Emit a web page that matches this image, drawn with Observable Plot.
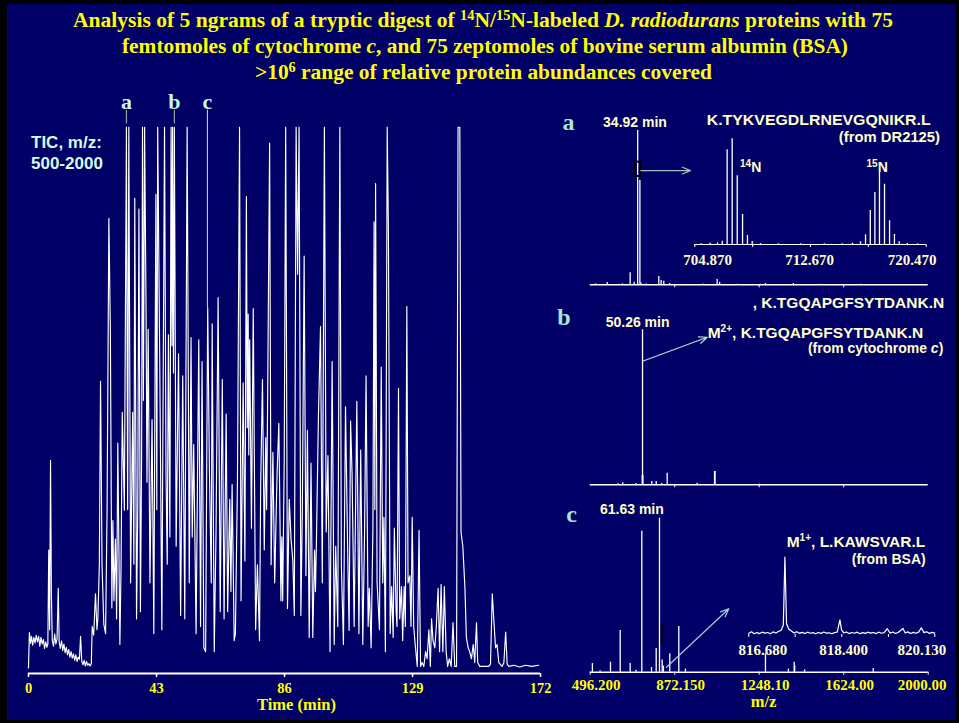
<!DOCTYPE html>
<html>
<head>
<meta charset="utf-8">
<script src="https://cdn.jsdelivr.net/npm/d3@7"></script>
<script src="https://cdn.jsdelivr.net/npm/@observablehq/plot@0.6"></script>
<style>
  html, body { margin: 0; padding: 0; background: #000; }
  #frame { position: relative; width: 959px; height: 723px; background: #000; overflow: hidden; }
  #bg { position: absolute; left: 7px; top: 4px; width: 949px; height: 716px; background: #000066; }
  .slot { position: absolute; }
  .slot svg { display: block; max-width: none !important; }
  #overlay { position: absolute; left: 0; top: 0; pointer-events: none; }
</style>
</head>
<body>
<div id="frame">
  <div id="bg"></div>
  <div id="tic" class="slot" style="left:0px;top:90px"></div>
  <div id="specA" class="slot" style="left:555px;top:100px"></div>
  <div id="specB" class="slot" style="left:555px;top:295px"></div>
  <div id="specC" class="slot" style="left:555px;top:495px"></div>
  <div id="insetA" class="slot" style="left:680px;top:130px"></div>
  <div id="insetC" class="slot" style="left:740px;top:540px"></div>
  <svg id="overlay" width="959" height="723" font-weight="bold">
    <g font-family="'Liberation Serif','Times New Roman',serif" fill="#ffff00" font-size="21">
      <text x="73" y="27" textLength="820" lengthAdjust="spacingAndGlyphs">Analysis of 5 ngrams of a tryptic digest of  <tspan font-size="14" dy="-7">14</tspan><tspan dy="7">N/</tspan><tspan font-size="14" dy="-7">15</tspan><tspan dy="7">N-labeled </tspan><tspan font-style="italic">D. radiodurans</tspan><tspan>  proteins with 75</tspan></text>
      <text x="122" y="53" textLength="726" lengthAdjust="spacingAndGlyphs">femtomoles of cytochrome <tspan font-style="italic">c</tspan><tspan>, and 75 zeptomoles of bovine serum albumin (BSA)</tspan></text>
      <text x="255" y="79" textLength="457" lengthAdjust="spacingAndGlyphs">&gt;10<tspan font-size="14" dy="-7">6</tspan><tspan dy="7"> range of relative protein abundances covered</tspan></text>
    </g>
    <g font-family="'Liberation Sans',Arial,sans-serif" fill="#d4fbe9" font-size="17">
      <text x="31" y="147.5">TIC, m/z:</text>
      <text x="31" y="168.5">500-2000</text>
    </g>
    <g font-family="'Liberation Serif','Times New Roman',serif" font-size="24" fill="#a8e6d6" text-anchor="middle">
      <text x="568.5" y="130">a</text>
      <text x="564" y="325">b</text>
      <text x="571.7" y="521.7">c</text>
    </g>
    <g font-family="'Liberation Sans',Arial,sans-serif" fill="#ffffcc" font-size="15">
      <text x="635" y="126.5" text-anchor="middle" font-size="14">34.92 min</text>
      <text x="706.7" y="125" textLength="224" lengthAdjust="spacingAndGlyphs">K.TYKVEGDLRNEVGQNIKR.L</text>
      <text x="940" y="142" text-anchor="end" font-size="14.8">(from DR2125)</text>
      <text x="740" y="171.5"><tspan font-size="10" dy="-5">14</tspan><tspan font-size="14" dy="5">N</tspan></text>
      <text x="866.5" y="171.5"><tspan font-size="10" dy="-5">15</tspan><tspan font-size="14" dy="5">N</tspan></text>
      <text x="752.7" y="307.5" textLength="191.6" lengthAdjust="spacingAndGlyphs">, K.TGQAPGFSYTDANK.N</text>
      <text x="605.7" y="327" font-size="14">50.26 min</text>
      <text x="707.7" y="337.5" font-size="15.5">M<tspan font-size="10" dy="-6">2+</tspan><tspan dy="6">, K.TGQAPGFSYTDANK.N</tspan></text>
      <text x="943.3" y="353" text-anchor="end" font-size="14">(from cytochrome  <tspan font-style="italic">c</tspan><tspan>)</tspan></text>
      <text x="600" y="514" font-size="14">61.63 min</text>
      <text x="786.7" y="546.5" font-size="15.5">M<tspan font-size="10" dy="-6">1+</tspan><tspan dy="6">, L.KAWSVAR.L</tspan></text>
      <text x="925.7" y="563.5" text-anchor="end" font-size="14">(from BSA)</text>
    </g>
  </svg>
</div>
<script>
// ---------- DATA ----------
// Total ion chromatogram: [time (min), relative signal %] (100 = detector full scale)
const ticTrace = [[0,1.0],[0.3,7.5],[0.7,5.5],[1.0,6.8],[1.4,5.2],[1.8,6.6],[2.2,5.6],[2.6,7.0],[3.0,5.8],[3.4,6.8],[3.8,5.0],[4.2,6.6],[4.6,5.4],[5.0,6.2],[5.4,4.6],[5.8,5.8],[6.2,4.8],[6.5,5.4],[6.8,22.6],[7.1,8.0],[7.4,39.0],[7.7,14.0],[8.0,6.0],[8.4,5.0],[8.8,7.2],[9.2,5.4],[9.6,6.4],[10.0,15.6],[10.3,5.8],[10.7,4.6],[11.1,6.0],[11.5,4.2],[11.9,5.4],[12.3,3.8],[12.7,4.8],[13.1,3.4],[13.5,4.4],[13.9,3.0],[14.3,4.0],[14.7,2.8],[15.1,3.6],[15.5,2.4],[15.9,3.4],[16.3,2.2],[16.7,3.0],[17.1,2.6],[17.5,6.8],[17.9,2.2],[18.3,1.6],[18.7,2.4],[19.1,1.4],[19.5,2.2],[19.9,1.5],[20.3,1.8],[20.7,1.4],[21.1,1.8],[21.4,8.6],[21.9,7.0],[22.5,14.6],[23.0,8.0],[23.3,10.0],[23.8,20.0],[24.2,53.5],[24.7,20.0],[25.3,9.0],[25.9,7.3],[26.4,30.0],[27.0,83.3],[27.5,62.8],[28.0,12.0],[28.35,28.0],[28.7,13.3],[29.2,24.6],[29.6,10.0],[30.0,42.2],[30.7,5.3],[31.1,20.0],[31.5,47.8],[32.2,29.9],[32.9,100],[33.3,30.0],[33.7,100],[34.3,16.6],[35.0,47.8],[35.4,20.0],[35.7,87.0],[36.3,10.0],[36.7,30.0],[37.1,85.0],[37.6,11.3],[38.0,40.0],[38.3,100],[38.6,50.0],[39.0,100],[39.5,65.8],[39.8,35.0],[40.2,63.0],[40.8,16.6],[41.5,46.5],[42.1,7.3],[42.8,87.7],[43.1,30.0],[43.4,100],[44.1,56.5],[44.8,8.0],[45.7,100],[46.2,36.5],[46.6,20.0],[47.0,62.0],[47.5,25.0],[47.9,100],[48.2,60.0],[48.4,100],[48.7,55.0],[49.0,100],[49.6,23.3],[50.4,58.5],[51.1,10.6],[51.8,54.5],[52.5,10.0],[53.3,100],[54.0,16.6],[54.6,61.5],[55.0,25.0],[55.5,41.9],[56.3,7.3],[57.2,61.1],[57.8,8.6],[58.3,57.1],[58.9,4.7],[59.5,4.0],[60.2,67.0],[60.8,36.5],[61.4,16.6],[61.7,64.0],[62.4,4.0],[63.0,26.0],[63.7,68.8],[64.4,11.3],[65.1,53.8],[65.7,10.0],[66.4,47.5],[66.9,11.3],[67.6,31.9],[68.0,15.0],[68.4,34.6],[69.1,6.0],[69.5,7.3],[70.2,35.2],[70.9,100],[71.4,13.3],[72.1,53.2],[72.7,20.6],[73.2,87.3],[73.5,45.0],[73.8,65.8],[74.0,40.0],[74.3,61.1],[74.9,26.6],[75.5,66.8],[76.3,8.0],[76.9,19.9],[77.6,6.0],[78.0,34.6],[78.6,53.8],[79.2,22.6],[79.7,43.2],[80.0,30.0],[80.3,47.8],[81.0,97.1],[81.5,19.9],[82.1,40.5],[82.7,16.6],[83.5,36.5],[84.1,45.8],[84.8,13.3],[85.1,25.0],[85.4,13.3],[85.9,38.9],[86.4,100],[87.0,11.9],[87.6,31.9],[88.2,24.6],[88.8,20.6],[89.3,10.6],[89.9,100],[90.4,73.1],[90.9,100],[91.5,10.6],[92.0,29.9],[92.6,76.4],[93.2,17.9],[93.7,44.5],[94.3,6.6],[94.9,38.5],[95.5,6.6],[96.1,22.6],[96.4,15.0],[96.7,23.3],[97.4,47.2],[98.1,63.5],[98.7,16.6],[99.4,100],[100.0,25.9],[100.6,39.9],[101.3,4.0],[102.0,57.1],[102.7,5.3],[103.2,23.3],[103.9,8.6],[104.6,100],[105.1,19.9],[105.8,5.3],[106.5,48.8],[107.2,23.3],[107.7,7.9],[108.2,46.2],[108.7,36.5],[109.4,8.6],[110.3,49.8],[111.0,7.3],[111.6,40.9],[112.3,5.3],[112.9,25.9],[113.4,54.5],[114.1,8.6],[114.5,15.6],[115.1,4.7],[115.7,26.6],[116.1,82.7],[116.35,30.0],[116.6,89.7],[117.1,16.6],[117.9,8.0],[118.5,56.1],[119.0,16.6],[119.4,28.6],[119.9,4.0],[120.5,100],[120.9,81.7],[121.5,7.3],[122.0,15.9],[122.5,6.6],[122.9,26.6],[123.5,11.3],[123.8,8.6],[124.3,52.2],[124.7,10.0],[125.3,15.9],[125.7,6.0],[126.2,15.9],[126.6,8.6],[127.1,67.2],[127.5,16.6],[128.1,17.9],[128.5,8.6],[128.9,28.6],[129.4,8.6],[130.0,4.7],[130.6,1.3],[131.2,26.2],[131.7,1.3],[132.2,2.0],[132.8,1.3],[133.4,4.0],[133.9,2.7],[134.5,8.0],[135.0,1.3],[135.4,10.0],[135.9,6.0],[136.5,4.7],[137.0,8.6],[137.6,15.6],[138.1,4.0],[138.6,16.3],[139.2,4.0],[139.7,15.9],[140.3,4.0],[140.8,1.3],[141.4,2.7],[142.0,1.3],[142.6,9.3],[143.2,1.3],[143.8,1.3],[144.3,100],[144.9,100],[145.3,25.9],[145.9,23.3],[146.6,15.9],[147.1,6.6],[147.7,4.7],[148.2,4.0],[148.8,2.7],[149.4,5.3],[149.9,2.0],[150.5,9.3],[150.9,2.0],[151.6,1.3],[152.9,1.3],[154.6,1.3],[155.2,1.7],[155.8,14.6],[156.3,10.0],[156.9,4.7],[157.4,5.3],[158.0,2.0],[159.1,1.3],[159.7,2.0],[160.3,7.6],[160.8,1.7],[161.4,1.3],[163.0,1.5],[165.0,1.2],[167.0,1.5],[169.0,1.3],[171.4,1.5]];
const timeTicks = [0, 43, 86, 129, 172];
const ticPeakLabels = ["a", "b", "c"];
const ticPeakTimes = [32.9, 49.0, 60.1];
const ticPeakApex = [100.6, 100.6, 67.0];

// Mass spectra: [m/z, relative intensity %]
const mzTicks = [496.2, 872.15, 1248.1, 1624.0, 2000.0];
const mzTickText = ["496.200", "872.150", "1248.10", "1624.00", "2000.00"];
const spectrumA = [[520,0.6],[572,1.5],[640,0.6],[674,7.8],[692,1.7],[707.4,100],[717.3,67.6],[722,1.2],[745,0.5],[801.4,5.4],[812,2.8],[823.6,2.3],[850,0.8],[1000,0.4],[1061,3.4],[1072,1.6],[1150,0.4],[1276,0.8],[1400,0.8],[1520,0.4],[1700,0.3]];
const spectrumB = [[620,0.6],[641,1.3],[700,0.8],[728,6.0],[729,100],[730.5,6.0],[770,2.2],[790,2.2],[815,0.8],[838.8,7.5],[972,1.0],[1049.5,8.6],[1051.5,8.6],[1250,0.4]];
const spectrumC = [[506,5.6],[540,1.0],[586.5,6.5],[629.7,27.0],[674,5.6],[700,1.2],[725.8,91.6],[769,3.0],[789.8,15.4],[804.5,100],[816.5,8.0],[822,4.0],[850.3,12.0],[890.4,29.7],[920,2.0],[1276,12.0],[1378,2.0],[1403.8,6.5],[1406,4.0],[1450,1.5],[1755.5,2.4]];

// Zoomed insets
const insetATicks = [704.87, 708.77, 712.67, 716.57, 720.47];
const insetALabels = ["704.870", "712.670", "720.470"];
const insetAPeaks = [[705.3,0.8],[705.9,1.2],[706.4,1.5],[706.72,3.1],[707.05,89.6],[707.39,100],[707.73,65.0],[708.09,28.4],[708.42,8.5],[708.74,2.8],[709.3,0.8],[710.5,0.6],[712.0,0.6],[713.6,0.8],[714.8,0.8],[715.5,1.2],[716.04,2.6],[716.38,9.2],[716.70,32.2],[717.01,49.2],[717.32,68.1],[717.66,57.0],[718.00,22.4],[718.33,9.5],[718.65,2.5],[719.2,1.0],[719.9,0.7]];
const insetCTicks = [816.68, 817.54, 818.405, 819.27, 820.13];
const insetCLabels = ["816.680", "818.400", "820.130"];
const insetCTrace = [[816.68,1.5],[816.73,3.5],[816.78,1.0],[816.83,2.5],[816.88,1.2],[816.93,3.0],[816.98,1.8],[817.03,2.6],[817.08,1.0],[817.13,3.4],[817.18,2.0],[817.23,3.8],[817.28,5.5],[817.32,12],[817.35,100],[817.38,14],[817.42,7],[817.47,4.5],[817.52,2.0],[817.57,3.6],[817.62,1.5],[817.67,2.8],[817.72,1.2],[817.77,3.0],[817.82,1.6],[817.87,2.4],[817.92,1.0],[817.97,2.6],[818.02,1.4],[818.07,3.2],[818.12,1.8],[818.17,2.2],[818.22,1.0],[818.27,2.4],[818.32,3.0],[818.37,19],[818.40,6],[818.44,2.0],[818.49,3.2],[818.54,1.2],[818.59,2.6],[818.64,1.6],[818.69,3.0],[818.74,1.0],[818.79,2.4],[818.84,1.4],[818.89,3.0],[818.94,1.8],[818.99,2.6],[819.04,1.2],[819.09,3.0],[819.14,1.6],[819.19,2.4],[819.25,7.5],[819.30,1.8],[819.35,3.2],[819.40,1.4],[819.45,2.6],[819.54,7.8],[819.58,2.0],[819.63,3.4],[819.68,1.2],[819.73,2.8],[819.78,1.6],[819.83,3.0],[819.88,8.6],[819.93,2.4],[819.98,3.6],[820.03,1.4],[820.08,2.8],[820.13,1.8]];

// Zoom annotations (in each spectrum's m/z, % space)
const zoomBoxA = [{x1: 694.6, x2: 721.3, y1: 70.2, y2: 79.5}];
const zoomArrowA = [{x1: 721.3, y1: 74, x2: 942.4, y2: 74}];
const zoomArrowB = [{x1: 728.9, y1: 79.7, x2: 1016.7, y2: 95.2}];
const zoomArrowC = [{x1: 835.7, y1: 3.2, x2: 1112.8, y2: 41.2}];
const zoomMarkC = [{x: 814.6, y1: 18.6, y2: 31.6}];

// ---------- DRAWING ----------
const SERIF = "'Liberation Serif','Times New Roman',serif";
const baseStyle = {background: "transparent", overflow: "visible", maxWidth: "none",
  color: "#ffff00", fontFamily: SERIF, fontSize: "15px", fontWeight: "bold"};

const tic = ticTrace.map(([t, v]) => ({t, v}));
const ticLabels = ticPeakLabels.map((s, i) => ({s, t: ticPeakTimes[i], apex: ticPeakApex[i]}));

const ticPlot = Plot.plot({
  width: 560, height: 630,
  marginLeft: 28, marginRight: 20, marginTop: 36.7, marginBottom: 47,
  x: {domain: [0, 172]},
  y: {domain: [0, 100], axis: null},
  style: baseStyle,
  marks: [
    Plot.line(tic, {x: "t", y: "v", stroke: "#ffffff", strokeWidth: 1.15}),
    Plot.ruleY([0], {stroke: "#ffffff", strokeWidth: 2}),
    Plot.axisX({ticks: timeTicks, tickSize: 4, tickPadding: 5, stroke: "#ffffff", strokeWidth: 1.5,
      fill: "#ffff00", label: null, fontSize: 14.5, tickFormat: d => String(d)}),
    Plot.text(["Time (min)"], {frameAnchor: "bottom", dx: 12, dy: 36, lineAnchor: "bottom",
      fill: "#ffff00", fontSize: 16.5, fontFamily: SERIF, fontWeight: "bold"}),
    Plot.ruleX(ticLabels.filter(d => d.s !== "c"), {x: "t", y1: "apex", y2: 103.1, stroke: "#7f9c9a", strokeWidth: 1.3}),
    Plot.ruleX(ticLabels.filter(d => d.s === "c"), {x: "t", y1: "apex", y2: 103.1, stroke: "#bff0dc", strokeWidth: 1}),
    Plot.text(ticLabels, {x: "t", y: 103.4, text: "s", lineAnchor: "bottom", fontSize: 22,
      fontFamily: SERIF, fontWeight: "bold", fill: "#c8f4e4"})
  ]
});
document.getElementById("tic").append(ticPlot);

function spectrum(pairs, {height, mt, mb, ticks, extra = []}) {
  const peaks = pairs.map(([mz, h]) => ({mz, h}));
  return Plot.plot({
    width: 404, height,
    marginLeft: 34.7, marginRight: 31.3, marginTop: mt, marginBottom: mb,
    x: {domain: [496.2, 2000]},
    y: {domain: [0, 100], axis: null},
    style: baseStyle,
    marks: [
      Plot.ruleY([0], {stroke: "#ffffff", strokeWidth: 1.5}),
      Plot.axisX({ticks, tickSize: 3, tickFormat: () => "", stroke: "#ffffff", label: null}),
      Plot.ruleX(peaks, {x: "mz", y1: 0, y2: "h", stroke: "#ffffff", strokeWidth: 1.3}),
      ...extra
    ]
  });
}

const arrowStyle = {x1: "x1", y1: "y1", x2: "x2", y2: "y2", strokeWidth: 1.2, headLength: 11, headAngle: 45};

document.getElementById("specA").append(spectrum(spectrumA, {
  height: 200, mt: 30, mb: 15.7, ticks: mzTicks.slice(1, 4),
  extra: [
    Plot.rect(zoomBoxA, {x1: "x1", x2: "x2", y1: "y1", y2: "y2", fill: "none", stroke: "#000000", strokeWidth: 2}),
    Plot.arrow(zoomArrowA, {...arrowStyle, stroke: "#9cc4bc"})
  ]
}));

document.getElementById("specB").append(spectrum(spectrumB, {
  height: 200, mt: 34.3, mb: 10.7, ticks: mzTicks.slice(1, 4),
  extra: [
    Plot.arrow(zoomArrowB, {...arrowStyle, stroke: "#b8e0cc"})
  ]
}));

const cLabels = mzTicks.map((v, i) => ({v, s: mzTickText[i]}));
document.getElementById("specC").append(spectrum(spectrumC, {
  height: 228, mt: 22.7, mb: 51.3, ticks: mzTicks,
  extra: [
    Plot.ruleX(zoomMarkC, {x: "x", y1: "y1", y2: "y2", stroke: "#000000", strokeWidth: 2}),
    Plot.arrow(zoomArrowC, {...arrowStyle, stroke: "#a8cce0"}),
    Plot.text(cLabels.slice(0, 4), {x: "v", text: "s", frameAnchor: "bottom", lineAnchor: "top", dy: 7, dx: 6,
      fill: "#ffff00", fontSize: 15, fontFamily: SERIF, fontWeight: "bold"}),
    Plot.text(cLabels.slice(4), {x: "v", text: "s", frameAnchor: "bottom", lineAnchor: "top", dy: 7, dx: -6,
      fill: "#ffff00", fontSize: 15, fontFamily: SERIF, fontWeight: "bold"}),
    Plot.text(["m/z"], {frameAnchor: "bottom", lineAnchor: "bottom", dx: 4.3, dy: 35,
      fill: "#ffff00", fontSize: 16.5, fontFamily: SERIF, fontWeight: "bold"})
  ]
}));

function inset({width, height, ml, mr, mt, mb, domain, ticks, labels, labelDx, marks}) {
  const lab = labels.map((s) => ({s, v: +s}));
  return Plot.plot({
    width, height, marginLeft: ml, marginRight: mr, marginTop: mt, marginBottom: mb,
    x: {domain}, y: {domain: [0, 100], axis: null},
    style: baseStyle,
    marks: [
      ...marks,
      Plot.axisX({ticks, tickSize: 3, tickFormat: () => "", stroke: "#ffffff", label: null}),
      ...lab.map((d, i) => Plot.text([d], {x: "v", text: "s", frameAnchor: "bottom", lineAnchor: "top",
        dy: 10, dx: labelDx[i], fill: "#ffffc8", fontSize: 15, fontFamily: SERIF, fontWeight: "bold"}))
    ]
  });
}

document.getElementById("insetA").append(inset({
  width: 270, height: 140, ml: 14.3, mr: 24.3, mt: 8.3, mb: 26,
  domain: [704.87, 720.47], ticks: insetATicks, labels: insetALabels, labelDx: [12.7, -1, -14],
  marks: [
    Plot.ruleY([0], {stroke: "#ffffff", strokeWidth: 1.2}),
    Plot.ruleX(insetAPeaks.map(([mz, h]) => ({mz, h})), {x: "mz", y1: 0, y2: "h", stroke: "#ffffff", strokeWidth: 1.3})
  ]
}));

document.getElementById("insetC").append(inset({
  width: 210, height: 120, ml: 8.3, mr: 15.7, mt: 16.7, mb: 26,
  domain: [816.68, 820.13], ticks: insetCTicks, labels: insetCLabels, labelDx: [14, 2, -13],
  marks: [
    Plot.line(insetCTrace.map(([mz, h]) => ({mz, h})), {x: "mz", y: "h", stroke: "#ffffff", strokeWidth: 1.2})
  ]
}));
</script>
</body>
</html>
